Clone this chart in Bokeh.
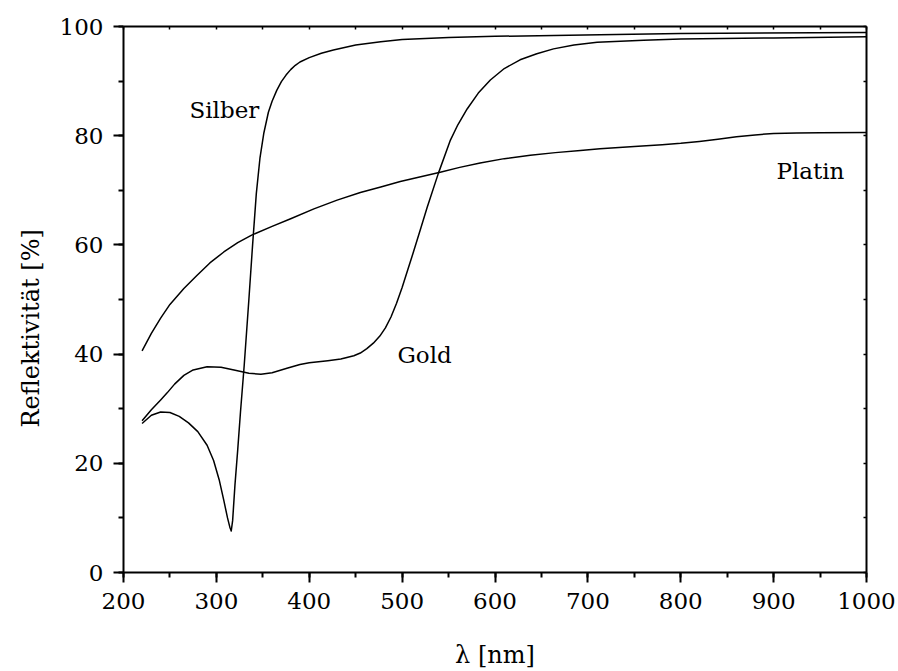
from bokeh.plotting import figure
from bokeh.models import LinearAxis, SingleIntervalTicker, Label, Range1d, Title
from bokeh.embed import file_html
from bokeh.resources import INLINE

# Silber (silver)
silber_x = [220, 230, 240, 250, 260, 270, 280, 290, 297, 303, 308, 312, 314.5, 316, 317.5, 320, 323, 326, 330,
            335, 339, 343, 347, 351, 356, 360, 365, 370, 375, 380, 385, 390, 400, 413, 426, 450, 477, 500, 550,
            600, 713, 800, 1000]
silber_y = [27.3, 28.8, 29.4, 29.3, 28.6, 27.4, 25.8, 23.3, 20.5, 17.0, 13.2, 10.0, 8.3, 7.6, 9.5, 16.0, 22.5, 29.5, 38.0,
            50.0, 60.0, 69.4, 76.0, 80.4, 84.3, 86.3, 88.3, 89.9, 91.1, 92.1, 92.9, 93.5, 94.3, 95.1, 95.7, 96.6, 97.2, 97.6, 98.0,
            98.2, 98.5, 98.7, 98.9]

# Gold
gold_x = [220, 230, 240, 247, 255, 265, 275, 290, 305, 319, 335, 348, 360, 376, 390, 400, 420, 434, 448, 455, 462,
          469, 476, 482, 488, 494, 500, 506, 512, 520, 527, 539, 552, 560, 570, 582, 595, 610, 627, 645, 663,
          685, 710, 760, 800, 900, 1000]
gold_y = [27.8, 29.8, 31.6, 32.9, 34.5, 36.1, 37.1, 37.7, 37.6, 37.1, 36.5, 36.3, 36.6, 37.4, 38.1, 38.4, 38.8, 39.1, 39.7, 40.2, 41.0,
          42.0, 43.3, 44.8, 46.8, 49.3, 52.2, 55.4, 58.6, 63.0, 66.9, 73.1, 79.2, 82.0, 84.9, 87.8, 90.2, 92.3, 93.9, 95.0, 95.9,
          96.6, 97.1, 97.5, 97.7, 97.9, 98.1]

# Platin (platinum)
platin_x = [220, 230, 240, 250, 265, 279, 293, 308, 323, 338, 360, 380, 405, 430, 455, 477, 498, 520, 541, 562,
            584, 610, 638, 665, 692, 713, 750, 780, 800, 820, 840, 860, 880, 900, 925, 950, 1000]
platin_y = [40.6, 43.8, 46.6, 49.1, 52.0, 54.4, 56.7, 58.7, 60.4, 61.8, 63.4, 64.8, 66.6, 68.2, 69.6, 70.6, 71.6, 72.5, 73.3, 74.2,
            75.0, 75.8, 76.4, 76.9, 77.3, 77.6, 78.0, 78.35, 78.6, 78.95, 79.35, 79.8, 80.15, 80.4, 80.5, 80.55, 80.6]

labels = [("Silber", 271, 84.7), ("Gold", 495, 39.8), ("Platin", 903, 73.5)]
x_title = "λ [nm]"
y_title = "Reflektivität [%]"

FONT = "DejaVu Serif"

p = figure(width=898, height=671, output_backend="svg", toolbar_location=None,
           x_range=Range1d(200, 1000), y_range=Range1d(0, 100),
           min_border_left=123, min_border_right=32, min_border_top=26, min_border_bottom=99,
           background_fill_color="white", border_fill_color="white")
p.outline_line_color = None
p.grid.visible = False

for xs, ys in [(silber_x, silber_y), (gold_x, gold_y), (platin_x, platin_y)]:
    p.line(xs, ys, line_color="black", line_width=1.5, line_join="round")

for txt, lx, ly in labels:
    p.add_layout(Label(x=lx, y=ly, text=txt, text_font=FONT, text_font_size="23px",
                       text_color="black", text_baseline="alphabetic", text_align="left"))

xa = p.xaxis[0]
xa.ticker = SingleIntervalTicker(interval=100, num_minor_ticks=2)
ya = p.yaxis[0]
ya.ticker = SingleIntervalTicker(interval=20, num_minor_ticks=2)
for ax in (xa, ya):
    ax.axis_line_width = 2
    ax.axis_line_color = "black"
    ax.major_tick_line_width = 2
    ax.minor_tick_line_width = 2
    ax.major_tick_out = 10
    ax.major_tick_in = 0
    ax.minor_tick_out = 5
    ax.minor_tick_in = 0
    ax.major_label_text_font = FONT
    ax.major_label_text_font_size = "23px"
    ax.major_label_text_color = "black"
    ax.major_label_standoff = 10
    ax.axis_label_text_font = FONT
    ax.axis_label_text_font_size = "24px"
    ax.axis_label_text_font_style = "normal"
    ax.axis_label_text_color = "black"
xa.axis_label = x_title
xa.axis_label_standoff = 29

# y title as a left-side title, placed a little below the frame centre like the reference
p.add_layout(Title(text=y_title, align="left", offset=145, text_font=FONT, text_font_size="24px",
                   text_font_style="normal", text_color="black", standoff=24), "left")

top = LinearAxis(ticker=SingleIntervalTicker(interval=50, num_minor_ticks=0))
right = LinearAxis(ticker=SingleIntervalTicker(interval=10, num_minor_ticks=0))
for ax in (top, right):
    ax.axis_line_width = 2
    ax.axis_line_color = "black"
    ax.major_tick_in = 3
    ax.major_tick_out = 0
    ax.major_tick_line_width = 1.5
    ax.minor_tick_line_color = None
    ax.major_label_text_color = None
    ax.major_label_text_font_size = "1px"
    ax.major_label_standoff = 0
p.add_layout(top, "above")
p.add_layout(right, "right")

open("out.html", "w").write(file_html(p, INLINE))
